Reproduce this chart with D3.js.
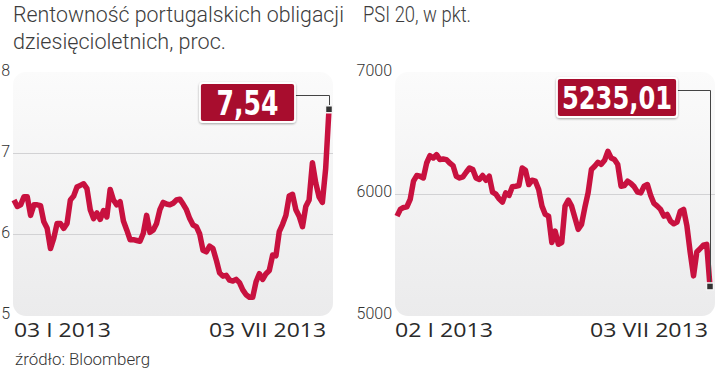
<!DOCTYPE html>
<html><head><meta charset="utf-8">
<script src="https://cdn.jsdelivr.net/npm/d3@7"></script>
<style>
body{margin:0;background:#fff;}
svg{display:block;}
</style></head>
<body>
<svg id="c" width="720" height="372"></svg>
<script>
// ---- data ----
const bondTitle = ["Rentowność portugalskich obligacji", "dziesięcioletnich, proc."];
const psiTitle = ["PSI 20, w pkt."];
const bondTicks = [5, 6, 7, 8];
const psiTicks = [5000, 6000, 7000];
const bondGrid = [6, 7];
const psiGrid = [6000];
const bondDates = ["03 I 2013", "03 VII 2013"];
const psiDates = ["02 I 2013", "03 VII 2013"];
const bondLast = "7,54";
const psiLast = "5235,01";
const source = "źródło: Bloomberg";

const bondValues = [6.42,6.34,6.36,6.46,6.46,6.23,6.36,6.36,6.35,6.15,6.07,5.82,5.95,6.13,6.13,6.07,6.13,6.42,6.47,6.58,
6.60,6.62,6.56,6.30,6.19,6.26,6.18,6.29,6.21,6.55,6.42,6.36,6.40,6.16,6.05,5.93,5.93,5.92,5.91,6.01,
6.23,6.02,6.05,6.13,6.30,6.39,6.37,6.36,6.38,6.42,6.43,6.37,6.30,6.19,6.11,6.09,6.00,5.80,5.78,5.85,
5.82,5.68,5.52,5.48,5.49,5.43,5.42,5.44,5.40,5.31,5.25,5.22,5.22,5.41,5.51,5.44,5.51,5.55,5.74,5.73,
6.03,6.12,6.23,6.47,6.49,6.30,6.22,6.09,6.34,6.42,6.88,6.63,6.46,6.39,6.81,7.54];

const psiValues = [5814,5869,5885,5891,5951,6101,6148,6142,6128,6251,6311,6292,6320,6279,6284,6279,6251,6230,6142,6128,
6137,6175,6210,6197,6128,6115,6148,6109,6142,6011,5995,5956,5929,6005,5984,6055,6060,6066,6210,6191,
6074,6109,6101,6033,5896,5828,5814,5596,5691,5582,5596,5896,5945,5896,5801,5705,5746,5883,6005,6197,
6224,6257,6240,6273,6347,6292,6279,6238,6060,6066,6101,6082,6055,6011,6005,6060,6074,5984,5918,5896,
5869,5814,5828,5773,5751,5765,5855,5869,5732,5514,5322,5519,5546,5574,5582,5235.01];

// ---- drawing ----
const svg = d3.select("#c");
const RED = "#c8113f";
const BOX = "#a8102e";
const defs = svg.append("defs");
const grad = defs.append("linearGradient").attr("id","pg").attr("x1",0).attr("y1",0).attr("x2",0).attr("y2",1);
grad.append("stop").attr("offset","0%").attr("stop-color","#fbfbfb");
grad.append("stop").attr("offset","100%").attr("stop-color","#ebebec");
const sh = defs.append("filter").attr("id","sh").attr("x","-20%").attr("y","-20%").attr("width","140%").attr("height","150%");
sh.append("feDropShadow").attr("dx",0).attr("dy",1).attr("stdDeviation",1.2).attr("flood-color","#000").attr("flood-opacity",0.35);

const titleFont = "Roboto, 'Noto Sans', sans-serif";
const condFont = "'DejaVu Sans Condensed', 'Liberation Sans Narrow', sans-serif";

function drawChart(o){
  const g = svg.append("g");
  // title
  o.title.forEach((t,i)=>{
    g.append("text").attr("x",o.titleX).attr("y",22+i*26.5)
     .attr("font-family",titleFont).attr("font-weight",300).attr("font-size",21.5)
     .attr("fill","#3c3c3c")
     .attr("textLength",o.titleW[i]).attr("lengthAdjust","spacingAndGlyphs")
     .text(t);
  });
  // panel
  g.append("rect").attr("x",o.px0).attr("y",72).attr("width",o.px1-o.px0).attr("height",244)
   .attr("rx",13).attr("fill","url(#pg)");
  const y = d3.scaleLinear().domain(o.domain).range([315,72]);
  const x = d3.scaleLinear().domain([0,o.values.length-1]).range([o.lx0,o.lx1]);
  // grid
  g.selectAll(".grid").data(o.grid).join("line")
   .attr("x1",o.px0).attr("x2",o.px1).attr("y1",d=>Math.round(y(d))+0.5).attr("y2",d=>Math.round(y(d))+0.5)
   .attr("stroke","#d2d2d4").attr("stroke-width",1);
  // axis labels
  const ax = g.append("g").attr("transform",`translate(${o.px0},0)`)
    .call(d3.axisLeft(y).tickValues(o.ticks).tickSize(0).tickPadding(o.pad).tickFormat(d=>String(d)));
  ax.select(".domain").remove();
  ax.selectAll("text").attr("font-family",titleFont).attr("font-weight",300)
    .attr("font-size",o.tickFs).attr("fill","#333").attr("dy","0.2em");
  // line
  const line = d3.line().x((d,i)=>x(i)).y(d=>y(d)).curve(d3.curveLinear);
  g.append("path").datum(o.values).attr("d",line).attr("fill","none")
   .attr("stroke",RED).attr("stroke-width",5.5).attr("stroke-linejoin","round").attr("stroke-linecap","butt");
  // end marker + connector
  const n = o.values.length-1, ex = x(n), ey = y(o.values[n]);
  const bx0 = o.boxX, bw = o.boxW, by0 = o.boxY, bh = 39;
  const cy = by0 + 12;
  g.append("path").attr("d",`M${bx0+bw},${cy+0.5}H${Math.round(ex)+0.5}V${ey}`)
   .attr("fill","none").attr("stroke","#444").attr("stroke-width",1);
  g.append("rect").attr("x",ex-3.5).attr("y",ey-3.5).attr("width",7).attr("height",7)
   .attr("fill","#333").attr("stroke","#f4f4f4").attr("stroke-width",1.5);
  // label box
  g.append("rect").attr("x",bx0).attr("y",by0).attr("width",bw).attr("height",bh).attr("rx",3)
   .attr("fill",BOX).attr("stroke","#fff").attr("stroke-width",1.8).attr("filter","url(#sh)");
  g.append("text").attr("x",bx0+bw/2).attr("y",by0+bh/2).attr("dy","0.36em")
   .attr("text-anchor","middle").attr("font-family",condFont).attr("font-weight",700)
   .attr("font-size",o.boxFs).attr("fill","#fff")
   .attr("textLength",o.boxTW).attr("lengthAdjust","spacingAndGlyphs")
   .text(o.last);
  // date labels
  o.dates.forEach((t,i)=>{
    g.append("text").attr("x",o.dateX[i]).attr("y",337)
     .attr("text-anchor", i===0 ? "start" : "end")
     .attr("font-family","'Open Sans', Roboto, sans-serif").attr("font-size",20.5).attr("fill","#2a2a2a")
     .attr("textLength",o.dateW[i]).attr("lengthAdjust","spacingAndGlyphs")
     .text(t);
  });
}

drawChart({title:bondTitle, titleX:13, titleW:[331,213], px0:13, px1:333, lx0:14, lx1:329,
  domain:[5,8], ticks:bondTicks, grid:bondGrid, pad:3, tickFs:16, values:bondValues,
  boxX:200, boxY:83, boxW:95, boxFs:34, boxTW:62, last:bondLast,
  dates:bondDates, dateX:[14,326], dateW:[97,117]});

drawChart({title:psiTitle, titleX:363, titleW:[108], px0:395, px1:715, lx0:397, lx1:710,
  domain:[5000,7000], ticks:psiTicks, grid:psiGrid, pad:3, tickFs:16, values:psiValues,
  boxX:557, boxY:78, boxW:120, boxFs:32, boxTW:110, last:psiLast,
  dates:psiDates, dateX:[395,708], dateW:[98,118]});

svg.append("text").attr("x",15).attr("y",365).attr("font-family",titleFont).attr("font-weight",300)
  .attr("font-size",16).attr("fill","#333").attr("textLength",135).attr("lengthAdjust","spacingAndGlyphs")
  .text(source);
</script>
</body></html>
